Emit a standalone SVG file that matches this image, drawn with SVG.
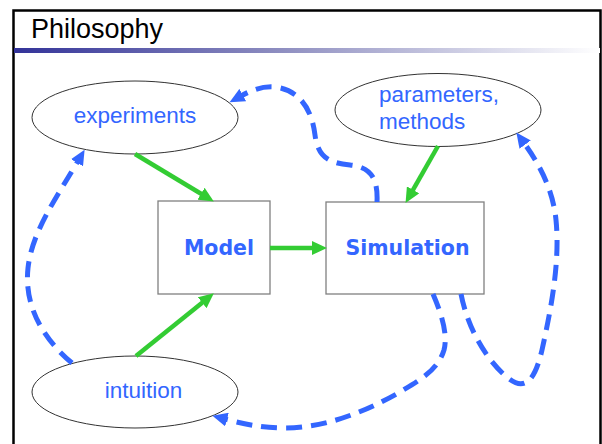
<svg xmlns="http://www.w3.org/2000/svg" width="602" height="444" viewBox="0 0 602 444">
<defs>
<style>
.node-shape{fill:#ffffff;stroke:#333333;stroke-width:1}
.box{fill:#ffffff;stroke:#808080;stroke-width:1.3}
.lbl{font-family:"Liberation Sans",Arial,sans-serif;font-size:22.5px;fill:#3366ff}
.blbl{font-family:"DejaVu Sans",Verdana,sans-serif;font-weight:bold;font-size:20.5px;fill:#3366ff;text-anchor:middle}
.green{fill:none;stroke:#33cc33;stroke-width:4.5}
.dash{fill:none;stroke:#3366ff;stroke-width:5;stroke-dasharray:16 9}
</style>
<linearGradient id="bar" x1="0" y1="0" x2="1" y2="0">
<stop offset="0" stop-color="#333399"/>
<stop offset="0.45" stop-color="#8d8dc0"/>
<stop offset="1" stop-color="#ffffff"/>
</linearGradient>
<marker id="ga" markerUnits="userSpaceOnUse" markerWidth="16" markerHeight="14" refX="2" refY="7" orient="auto">
<path d="M0,0 L15,7 L0,14 z" fill="#33cc33"/>
</marker>
<marker id="ba" markerUnits="userSpaceOnUse" markerWidth="16" markerHeight="14" refX="2" refY="7" orient="auto">
<path d="M0,0 L15,7 L0,14 z" fill="#3366ff"/>
</marker>
</defs>
<rect x="0" y="0" width="602" height="444" fill="#ffffff"/>
<rect x="13.5" y="10.5" width="587" height="450" fill="none" stroke="#000000" stroke-width="2.5"/>
<rect x="14" y="48" width="586" height="5" fill="url(#bar)"/>
<text x="31" y="38" font-family="'Liberation Sans',Arial,sans-serif" font-size="27" fill="#000000">Philosophy</text>

<g id="experiments">
<ellipse class="node-shape" cx="135" cy="117.5" rx="103" ry="36.5"/>
<text class="lbl" x="135" y="123" text-anchor="middle">experiments</text>
</g>
<g id="parameters">
<ellipse class="node-shape" cx="438" cy="110" rx="103" ry="36.5"/>
<text class="lbl" x="379" y="102">parameters,</text>
<text class="lbl" x="379" y="129">methods</text>
</g>
<g id="intuition">
<ellipse class="node-shape" cx="135" cy="392" rx="103" ry="36"/>
<text class="lbl" x="143.5" y="398" text-anchor="middle">intuition</text>
</g>
<g id="model">
<rect class="box" x="158" y="201" width="112" height="93"/>
<text class="blbl" x="219" y="255">Model</text>
</g>
<g id="simulation">
<rect class="box" x="326" y="202" width="158" height="92"/>
<text class="blbl" x="407.5" y="255">Simulation</text>
</g>

<g id="connectors">
<line class="green" x1="135" y1="154" x2="202.7" y2="194.8" marker-end="url(#ga)"/>
<line class="green" x1="136" y1="356" x2="203.7" y2="301.5" marker-end="url(#ga)"/>
<line class="green" x1="270" y1="248" x2="314" y2="248" marker-end="url(#ga)"/>
<line class="green" x1="438" y1="146" x2="412" y2="191.6" marker-end="url(#ga)"/>
<path class="dash" d="M377,202 C378,180 372,167 350,165 C330,163 318,158 315,135 C312,110 300,90 275,87 C262,86 252,90 241,96" marker-end="url(#ba)"/>
<path class="dash" d="M72,363 C42,338 24,305 28,268 C32,232 55,200 78,161" marker-end="url(#ba)"/>
<path class="dash" d="M433,294 C442,315 448,335 444,350 C438,370 420,380 400,392 C360,415 320,428 285,428 C260,428 240,423 225,419" marker-end="url(#ba)"/>
<path class="dash" d="M461,294 C468,330 488,362 508,378 C525,392 535,380 542,350 C552,305 560,260 556,220 C553,190 540,165 524,143" marker-end="url(#ba)"/>
</g>
</svg>
